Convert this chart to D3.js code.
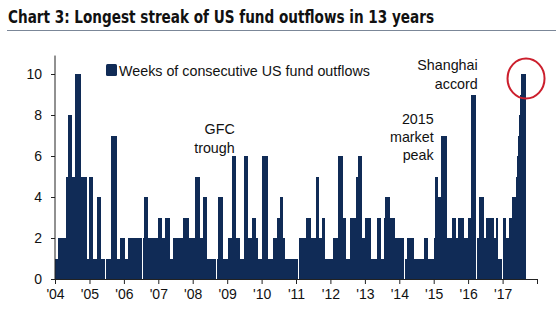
<!DOCTYPE html>
<html>
<head>
<meta charset="utf-8">
<script src="https://cdn.jsdelivr.net/npm/d3@7"></script>
<style>
  body { margin: 0; background: #fff; }
  svg { display: block; font-family: "Liberation Sans", Arial, sans-serif; }
</style>
</head>
<body>
<div id="chart"></div>
<script>
// weeks of consecutive US fund outflows, one value per week
const years = [2004, 2005, 2006, 2007, 2008, 2009, 2010, 2011, 2012, 2013, 2014, 2015, 2016, 2017];
const w2004 = [1,1,1,1,1, 2,2,2,2,2,2,2,2,2,2,2,2, 5,5,5, 8,8,8,8,8,8, 5,5,5,5,5, 10,10,10,10,10,10,10,10, 5,5,5,5,5,5,5,5,5, 1,1,1,1];
const w2005 = [5,5,5,5,5,5, 1,1,1,1,1,1, 4,4,4,4,4,4, 1,1,1,1,1,1,0,1,1,1,1,1,1,1,1, 7,7,7,7,7,7,7,7, 1,1,1,1,1, 2,2,2,2,2,2];
const w2006 = [2,2, 1,1,1,1, 2,2,2,2,2,2,2,2,2,0,2,2,2,2,2,2,2,2,2,2,2,2,0,2, 4,4,4,4,4,4,4, 2,2,2,2,2,2,2,2,2,2,2,2,2,2,2];
const w2007 = [3,3,3,3,3, 2,2,2,2,2, 3,3,3,3,3,3,3, 1,1,1,1,1, 2,2,2,2,2,2,2,2,2,2,2,2,2,2,2, 3,3,3,3,3,3,3,3,3,3, 2,2,2,2,2];
const w2008 = [2,2,2, 5,5,5,5,5,5,5,5, 2,2,2,2, 4,4,4,4,4,4,4, 1,1,1,1,1,1,1,1,1,1,1,1,1,1,0,1,1, 4,4,4,4,4,4,4, 1,1,1,1,1,1];
const w2009 = [1, 2,2,2,2,2,2, 6,6,6,6,6,6,6, 2,2,2,2,2,2, 1,1,1,1,1, 6,6,6,6,6,6,6, 2,2,2,2,2, 3,3,3,3,3,3, 2,2,2, 1,1,1,1,1,1];
const w2010 = [6,6,6,6,6,6,6,6,6, 1,1,1,1,1,1,1,1, 2,2,2,2,2,2, 3,3,3,3,3, 4,4,4,4,4, 2,2,2, 1,1,1,1,1,1,1,1,1,1,1,1,1,1,1,1];
const w2011 = [1,1,1, 0,0, 2,2,2,2,2,2,2,2,2,2, 3,3,3,3,3,3,3,3, 2,2,2,2,2,2,2, 5,5,5,5,5, 2,2,2,2, 3,3,3,3,3, 1,1,1,1,1,1,1,1];
const w2012 = [1,1,1,1, 2,2,2,2,2,2,2, 6,6,6,6,6,6,6,6, 3,3,3,3, 1,1,1,1,1,1, 3,3,3,3,3,3,3,3,3,3, 5,5,5, 6,6,6,6,6,6, 2,2,2,2];
const w2013 = [3,3,3,3,3,3,3,3,3, 1,1,1,1,1,1,1,1,1,1, 3,3,3,3,3, 1,1,1,1,1, 3,3, 4,4,4,4,4,4,4, 3,3,3,3,3,3,3, 2,2,2,2,2,2,2];
const w2014 = [2,2,2,2,2,2,2,0, 1,1,1,1, 2,2,2,2,2,2,2,2,2,2,2, 1,1,1,1,1,1,1,1,1,1,1,1,1,1,1, 2,2,2,2,2, 1,1,1,1,1,1,1,1,1];
const w2015 = [2,2, 5,5,5,5,5, 4,4,4,4, 7,7,7,7,7,7,7,7,7, 2,2,2,2,2,2,2, 3,3,3,3,3,3,3, 2,2,2, 3,3,3,3,3,3,3,3,3, 2,2,2,2,2,2];
const w2016 = [3,3,3,3, 9,9,9,9,9,9,9,9, 0, 2,2,2,2, 4,4,4,4,4,4,4, 2,2,2, 3,3,3,3,3,3,3,3,3,3,3,3,3, 2,2,2, 3,3,3, 1,1,1,1,1,1];
const w2017 = [1, 3,3,3,3, 2,2,2,2, 3,3,3,3,3,3, 4,4,4,4,4, 5,5,6,7,7,8,9,9, 10,10,10,10,10,10,10];
const weekly = [w2004, w2005, w2006, w2007, w2008, w2009, w2010, w2011, w2012, w2013, w2014, w2015, w2016, w2017];

const yTicks = [0, 2, 4, 6, 8, 10];
const yearLabels = ["'04", "'05", "'06", "'07", "'08", "'09", "'10", "'11", "'12", "'13", "'14", "'15", "'16", "'17"];
const seriesName = "Weeks of consecutive US fund outflows";
const title = "Chart 3: Longest streak of US fund outflows in 13 years";

const width = 556;
const height = 325;
const barColor = "#102b56";

const data = years.flatMap((yr, k) => weekly[k].map((v, i) => ({
    date: d3.timeDay.offset(new Date(yr, 0, 1), 7 * i),
    value: v
})));

const svg = d3.select("#chart")
    .append("svg")
    .attr("width", width)
    .attr("height", height);

const x = d3.scaleTime()
    .domain([new Date(2004, 0, 1), new Date(2018, 0, 1)])
    .range([55, 537]);
const y = d3.scaleLinear()
    .domain([0, 10])
    .range([279, 74]);

// title + rule
svg.append("text")
    .attr("x", 8)
    .attr("y", 23)
    .attr("font-family", "'Liberation Sans Narrow', 'Arial Narrow', 'DejaVu Sans Condensed', sans-serif")
    .attr("font-weight", "bold")
    .attr("font-size", 17)
    .attr("textLength", 426)
    .attr("lengthAdjust", "spacingAndGlyphs")
    .attr("fill", "#111")
    .text(title);
svg.append("line")
    .attr("x1", 7).attr("x2", width)
    .attr("y1", 30.5).attr("y2", 30.5)
    .attr("stroke", "#7b8798")
    .attr("stroke-width", 1.2);

// bars
svg.append("g")
    .attr("shape-rendering", "crispEdges")
    .selectAll("rect")
    .data(data.filter(d => d.value > 0))
    .enter()
    .append("rect")
    .attr("x", d => x(d.date))
    .attr("y", d => y(d.value))
    .attr("width", d => x(d3.timeDay.offset(d.date, 7)) - x(d.date))
    .attr("height", d => y(0) - y(d.value))
    .attr("fill", barColor);

// axes
const yAxis = d3.axisLeft(y).tickValues(yTicks).tickSize(4).tickPadding(9).tickSizeOuter(0);
const yG = svg.append("g")
    .attr("transform", `translate(${x.range()[0]},0)`)
    .call(yAxis);
yG.select(".domain").attr("d", `M0,${y(0)}V${y(10.9)}`);

const yearTicks = d3.range(2004, 2019).map(yr => new Date(yr, 0, 1));
const xAxis = d3.axisBottom(x)
    .tickValues(yearTicks)
    .tickSize(5)
    .tickPadding(5)
    .tickSizeOuter(0)
    .tickFormat((d, i) => yearLabels[i] || "");
svg.append("g")
    .attr("transform", `translate(0,${y(0)})`)
    .call(xAxis);

svg.selectAll(".tick text")
    .attr("font-family", "'Liberation Sans', Arial, sans-serif")
    .attr("font-size", 14)
    .attr("fill", "#111");
svg.selectAll(".domain, .tick line").attr("stroke", "#222");

// legend
svg.append("rect")
    .attr("x", 106).attr("y", 64)
    .attr("width", 11).attr("height", 12)
    .attr("rx", 1.5)
    .attr("fill", barColor);
svg.append("text")
    .attr("x", 119).attr("y", 75.5)
    .attr("font-size", 14.3)
    .attr("fill", "#111")
    .text(seriesName);

// annotations (right aligned text blocks)
const notes = [
    { lines: ["GFC", "trough"], date: new Date(2009, 2, 22), top: 7.05, step: 18.5 },
    { lines: ["2015", "market", "peak"], date: new Date(2015, 0, 1), top: 7.55, step: 17.8 },
    { lines: ["Shanghai", "accord"], date: new Date(2016, 3, 12), top: 10.2, step: 18.7 }
];
notes.forEach(n => {
    n.lines.forEach((t, i) => {
        svg.append("text")
            .attr("x", x(n.date))
            .attr("y", y(n.top) + i * n.step)
            .attr("text-anchor", "end")
            .attr("font-size", 14.3)
            .attr("fill", "#111")
            .text(t);
    });
});

// red ring around the latest streak
const last = data[data.length - 1];
svg.append("ellipse")
    .attr("cx", x(last.date) + 1)
    .attr("cy", y(last.value) + 4.5)
    .attr("rx", 18.5)
    .attr("ry", 20)
    .attr("fill", "none")
    .attr("stroke", "#cc1f2d")
    .attr("stroke-width", 2);
</script>
</body>
</html>
